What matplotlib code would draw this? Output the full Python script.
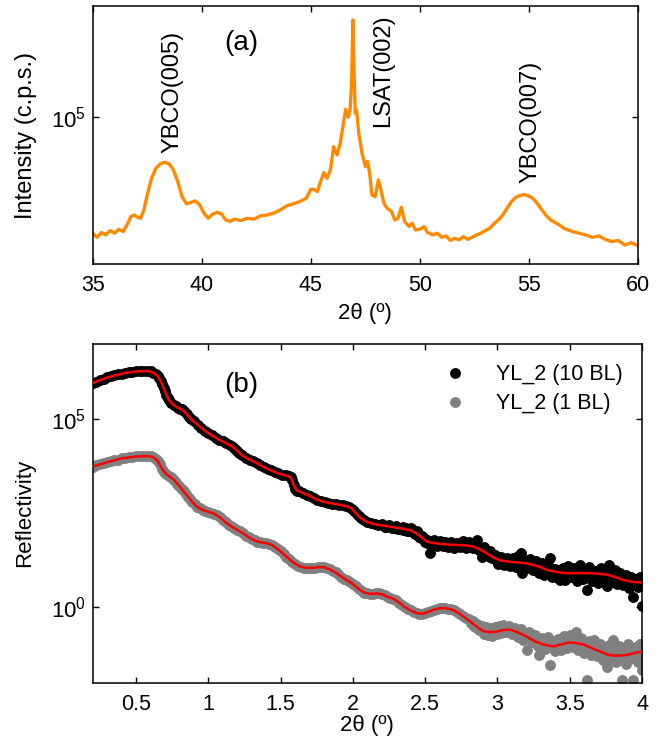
import matplotlib
matplotlib.use("Agg")
import matplotlib.pyplot as plt
from matplotlib import font_manager as fm
from matplotlib.ticker import FixedLocator, NullLocator, FixedFormatter
import numpy as np

# ---------------- panel (a): XRD theta-2theta scan ----------------
xrd_2theta = [35.0, 35.2, 35.4, 35.6, 35.8, 36.0, 36.2, 36.4, 36.6, 36.75, 36.9, 37.05, 37.2, 37.35,
              37.5, 37.7, 37.9, 38.1, 38.3, 38.5, 38.7, 38.9, 39.1, 39.3, 39.5, 39.7, 39.9, 40.1,
              40.3, 40.5, 40.7, 40.9, 41.1, 41.3, 41.5, 41.8, 42.1, 42.4, 42.7, 43.0, 43.3, 43.6,
              43.9, 44.2, 44.5, 44.8, 45.0, 45.15, 45.3, 45.45, 45.6, 45.75, 45.9, 46.05, 46.2,
              46.35, 46.5, 46.6, 46.72, 46.8, 46.87, 46.93, 46.98, 47.04, 47.1, 47.2, 47.35, 47.5,
              47.6, 47.7, 47.8, 47.95, 48.1, 48.2, 48.35, 48.5, 48.7, 48.85, 49.0, 49.15, 49.3,
              49.5, 49.65, 49.8, 50.0, 50.2, 50.35, 50.6, 50.8, 51.0, 51.2, 51.4, 51.6, 51.8, 52.0,
              52.2, 52.4, 52.6, 52.8, 53.0, 53.2, 53.4, 53.6, 53.8, 54.0, 54.2, 54.4, 54.6, 54.8,
              55.0, 55.2, 55.4, 55.6, 55.8, 56.0, 56.2, 56.4, 56.6, 56.8, 57.0, 57.3, 57.6, 57.9,
              58.2, 58.5, 58.8, 59.1, 59.4, 59.7, 60.0]
xrd_counts = [25900, 24700, 26100, 25400, 26700, 25900, 27100, 26400, 28900, 31400, 32000, 31200,
              30800, 33900, 40400, 49000, 55000, 57900, 59000, 57900, 54000, 47100, 39600, 36400,
              37000, 37700, 36000, 32700, 30800, 32300, 33000, 32400, 30200, 29700, 30500, 30000,
              30800, 30500, 31700, 32000, 32700, 33900, 35600, 36400, 37400, 38900, 43100, 43100,
              42000, 47100, 52300, 49000, 54000, 70700, 64200, 73500, 92700, 109000, 99400, 108000,
              147000, 307000, 172000, 104000, 108000, 82600, 65500, 56100, 59600, 51900, 40400,
              39600, 48100, 43600, 36700, 34600, 33300, 30200, 30800, 35000, 29700, 28000, 29100,
              26900, 27100, 28000, 26100, 25400, 25900, 24700, 25100, 23800, 24400, 24000, 24900,
              24100, 24700, 25400, 25900, 26700, 27400, 28900, 30200, 32000, 34600, 37400, 39300,
              40100, 40500, 39900, 38600, 36400, 33900, 31700, 30200, 29300, 28500, 27400, 26900,
              26400, 25900, 25400, 24700, 25100, 24100, 23500, 23800, 22600, 23200, 22400]

peak_labels = ["YBCO(005)", "LSAT(002)", "YBCO(007)"]
peak_label_2theta = [38.64, 48.31, 55.05]
peak_label_counts = [65600, 88700, 46400]

# ---------------- panel (b): X-ray reflectivity (decade exponents) ----------------
theta_10bl = [0.200, 0.225, 0.250, 0.275, 0.300, 0.325, 0.350, 0.375, 0.400, 0.425, 0.450, 0.475,
              0.500, 0.525, 0.550, 0.575, 0.600, 0.620, 0.635, 0.650, 0.660, 0.670, 0.680, 0.690,
              0.700, 0.710, 0.720, 0.730, 0.745, 0.760, 0.775, 0.790, 0.805, 0.820, 0.835, 0.850,
              0.865, 0.880, 0.900, 0.925, 0.950, 0.975, 1.000, 1.025, 1.050, 1.075, 1.100, 1.125,
              1.150, 1.170, 1.185, 1.200, 1.215, 1.235, 1.260, 1.285, 1.310, 1.335, 1.360, 1.385,
              1.410, 1.435, 1.460, 1.485, 1.510, 1.535, 1.555, 1.570, 1.580, 1.590, 1.600, 1.615,
              1.630, 1.655, 1.680, 1.705, 1.730, 1.755, 1.780, 1.805, 1.830, 1.855, 1.880, 1.905,
              1.930, 1.955, 1.975, 1.995, 2.010, 2.025, 2.040, 2.055, 2.075, 2.100, 2.125, 2.150,
              2.175,
              2.200, 2.225, 2.250, 2.275, 2.300, 2.325, 2.350, 2.375, 2.400, 2.420, 2.440, 2.460,
              2.480, 2.500, 2.515, 2.530, 2.545, 2.560, 2.580, 2.600, 2.620, 2.640, 2.660, 2.680,
              2.700, 2.720, 2.740, 2.760, 2.780, 2.800, 2.820, 2.840, 2.860, 2.880, 2.890, 2.905,
              2.925, 2.945, 2.965, 2.985, 3.005, 3.025, 3.045, 3.065, 3.085, 3.105, 3.125, 3.145,
              3.160, 3.170, 3.185, 3.205, 3.225, 3.245, 3.265, 3.285, 3.305, 3.325, 3.345, 3.364,
              3.380, 3.400, 3.420, 3.433, 3.450, 3.470, 3.490, 3.510, 3.530, 3.550, 3.570, 3.590,
              3.610, 3.618, 3.635, 3.655, 3.675, 3.695, 3.715, 3.735, 3.756, 3.770, 3.790, 3.810,
              3.830, 3.850, 3.870, 3.890, 3.910, 3.925, 3.940, 3.955, 3.970, 3.985, 3.995, 4.000,
              2.21, 2.23, 2.25, 2.27, 2.29, 2.31, 2.33, 2.35, 2.37, 2.39, 2.41, 2.43, 2.45, 2.47,
              2.49, 2.51, 2.53, 2.55, 2.57, 2.59, 2.61, 2.63, 2.65, 2.67, 2.69, 2.71, 2.73, 2.75,
              2.77, 2.79, 2.81, 2.83, 2.85, 2.87, 2.89, 2.91, 2.93, 2.95, 2.97, 2.99, 3.01, 3.03,
              3.05, 3.07, 3.09, 3.11, 3.13, 3.15, 3.17, 3.19, 3.21, 3.23, 3.25, 3.27, 3.29, 3.31,
              3.33, 3.35, 3.37, 3.39, 3.41, 3.43, 3.45, 3.47, 3.49, 3.51, 3.53, 3.55, 3.57, 3.59,
              3.61, 3.63, 3.65, 3.67, 3.69, 3.71, 3.73, 3.75, 3.77, 3.79, 3.81, 3.83, 3.85, 3.87,
              3.89, 3.91, 3.93, 3.95, 3.97, 3.99]
exp_10bl = [5.96, 6.00, 6.04, 6.08, 6.11, 6.14, 6.17, 6.19, 6.21, 6.23, 6.25, 6.26,
            6.27, 6.27, 6.28, 6.28, 6.27, 6.24, 6.20, 6.15, 6.09, 6.02, 5.94, 5.84,
            5.74, 5.65, 5.57, 5.50, 5.43, 5.38, 5.34, 5.30, 5.28, 5.26, 5.22, 5.14,
            5.07, 5.01, 4.94, 4.86, 4.77, 4.70, 4.63, 4.57, 4.51, 4.46, 4.41, 4.36,
            4.32, 4.27, 4.22, 4.16, 4.10, 4.04, 3.98, 3.93, 3.88, 3.84, 3.79, 3.73,
            3.68, 3.64, 3.59, 3.56, 3.53, 3.51, 3.49, 3.46, 3.38, 3.26, 3.15, 3.10,
            3.08, 3.04, 3.00, 2.96, 2.91, 2.86, 2.83, 2.80, 2.78, 2.76, 2.75, 2.73,
            2.71, 2.69, 2.66, 2.62, 2.55, 2.48, 2.42, 2.37, 2.31, 2.27, 2.23, 2.21,
            2.19,
            2.22, 2.14, 2.19, 2.10, 2.16, 2.08, 2.13, 2.03, 2.10, 1.99, 2.04, 1.88,
            1.90, 1.74, 1.80, 1.44, 1.68, 1.78, 1.64, 1.76, 1.62, 1.74, 1.60, 1.75,
            1.58, 1.72, 1.61, 1.76, 1.57, 1.74, 1.60, 1.70, 1.80, 1.52, 1.35, 1.60,
            1.42, 1.50, 1.30, 1.38, 1.16, 1.34, 1.12, 1.30, 1.10, 1.32, 1.08, 1.36,
            1.44, 0.91, 1.26, 1.04, 1.28, 1.00, 1.22, 0.92, 1.18, 0.86, 1.10, 1.31,
            0.80, 1.02, 0.78, 0.73, 1.06, 0.74, 1.10, 0.80, 1.04, 0.70, 1.12, 0.76,
            1.00, 0.47, 1.08, 0.70, 0.96, 0.66, 1.06, 0.78, 0.56, 1.14, 0.68, 1.00,
            0.62, 0.92, 0.60, 0.86, 0.52, 0.80, 0.29, 0.76, 0.55, 0.82, 0.64, 0.03,
            2.19, 2.13, 2.17, 2.12, 2.14, 2.09, 2.12, 2.07, 2.10, 2.04, 2.06, 1.96, 1.97, 1.84,
            1.85, 1.72, 1.77, 1.70, 1.75, 1.67, 1.72, 1.65, 1.70, 1.64, 1.69, 1.63, 1.69, 1.62,
            1.68, 1.61, 1.67, 1.58, 1.63, 1.53, 1.57, 1.43, 1.48, 1.34, 1.37, 1.25, 1.32, 1.19,
            1.28, 1.17, 1.26, 1.15, 1.25, 1.14, 1.24, 1.12, 1.21, 1.08, 1.18, 1.04, 1.14, 0.98,
            1.08, 0.92, 1.04, 0.88, 1.00, 0.86, 0.98, 0.84, 0.97, 0.85, 0.98, 0.84, 0.97, 0.83,
            0.98, 0.84, 0.97, 0.82, 0.98, 0.82, 0.96, 0.80, 0.94, 0.76, 0.90, 0.70, 0.84, 0.66,
            0.80, 0.62, 0.76, 0.60, 0.74, 0.60]

theta_1bl = [0.200, 0.225, 0.250, 0.275, 0.300, 0.325, 0.350, 0.375, 0.400, 0.425, 0.450, 0.475,
             0.500, 0.525, 0.550, 0.575, 0.600, 0.620, 0.635, 0.650, 0.665, 0.680, 0.695, 0.710,
             0.725, 0.740, 0.755, 0.770, 0.785, 0.800, 0.815, 0.830, 0.845, 0.860, 0.875, 0.890,
             0.905, 0.920, 0.940, 0.960, 0.980, 1.000, 1.020, 1.040, 1.060, 1.080, 1.100, 1.120,
             1.140, 1.160, 1.180, 1.200, 1.220, 1.240, 1.260, 1.280, 1.300, 1.320, 1.340, 1.360,
             1.380, 1.400, 1.420, 1.440, 1.460, 1.480, 1.500, 1.520, 1.540, 1.560, 1.580, 1.600,
             1.620, 1.640, 1.660, 1.680, 1.700, 1.720, 1.740, 1.760, 1.780, 1.800, 1.820, 1.840,
             1.860, 1.880, 1.900, 1.920, 1.940, 1.960, 1.980, 2.000, 2.020, 2.040, 2.060, 2.080,
             2.100, 2.120, 2.140, 2.160, 2.180, 2.200, 2.220, 2.240, 2.260, 2.280, 2.300, 2.320,
             2.340, 2.360, 2.380, 2.400, 2.420, 2.440, 2.460, 2.480, 2.500, 2.520, 2.540, 2.560,
             2.580, 2.600, 2.620, 2.640, 2.660, 2.680, 2.700, 2.720, 2.740, 2.760, 2.780,
             2.800, 2.815, 2.830, 2.845, 2.860, 2.875, 2.890, 2.905, 2.920, 2.935, 2.950, 2.965,
             2.980, 2.995, 3.010, 3.025, 3.040, 3.060, 3.080, 3.100, 3.120, 3.140, 3.160, 3.180,
             3.202, 3.220, 3.240, 3.260, 3.280, 3.290, 3.310, 3.330, 3.350, 3.364, 3.380, 3.400,
             3.420, 3.440, 3.460, 3.480, 3.500, 3.520, 3.540, 3.560, 3.580, 3.600, 3.618, 3.630,
             3.650, 3.670, 3.690, 3.710, 3.730, 3.756, 3.770, 3.790, 3.800, 3.820, 3.840, 3.860,
             3.875, 3.890, 3.905, 3.920, 3.940, 3.955, 3.970, 3.985, 3.997, 4.000,
             2.81, 2.83, 2.85, 2.87, 2.89, 2.91, 2.93, 2.95, 2.97, 2.99, 3.01, 3.03, 3.05, 3.07,
             3.09, 3.11, 3.13, 3.15, 3.17, 3.19, 3.21, 3.23, 3.25, 3.27, 3.29, 3.31, 3.33, 3.35,
             3.37, 3.39, 3.41, 3.43, 3.45, 3.47, 3.49, 3.51, 3.53, 3.55, 3.57, 3.59, 3.61, 3.63,
             3.65, 3.67, 3.69, 3.71, 3.73, 3.75, 3.77, 3.79, 3.81, 3.83, 3.85, 3.87, 3.89, 3.91,
             3.93, 3.95, 3.97, 3.99]
exp_1bl = [3.74, 3.78, 3.81, 3.84, 3.86, 3.89, 3.91, 3.93, 3.96, 3.98, 3.99, 4.00,
           4.01, 4.01, 4.02, 4.02, 4.01, 3.99, 3.95, 3.89, 3.80, 3.68, 3.60, 3.54,
           3.50, 3.46, 3.42, 3.36, 3.29, 3.22, 3.15, 3.08, 3.01, 2.94, 2.87, 2.80,
           2.74, 2.68, 2.63, 2.59, 2.56, 2.54, 2.52, 2.49, 2.45, 2.39, 2.33, 2.26,
           2.20, 2.15, 2.10, 2.06, 2.02, 1.97, 1.91, 1.86, 1.82, 1.78, 1.75, 1.73,
           1.72, 1.71, 1.69, 1.66, 1.61, 1.55, 1.49, 1.42, 1.35, 1.28, 1.21, 1.16,
           1.11, 1.08, 1.06, 1.05, 1.04, 1.05, 1.06, 1.07, 1.08, 1.07, 1.05, 1.01,
           0.97, 0.93, 0.88, 0.82, 0.76, 0.72, 0.68, 0.63, 0.56, 0.49, 0.43, 0.39,
           0.37, 0.36, 0.36, 0.37, 0.37, 0.35, 0.32, 0.28, 0.24, 0.23, 0.19, 0.13,
           0.07, 0.01, -0.04, -0.08, -0.12, -0.15, -0.17, -0.17, -0.15, -0.12, -0.09, -0.06,
           -0.04, -0.02, -0.01, -0.02, -0.03, -0.05, -0.08, -0.12, -0.17, -0.23, -0.29,
           -0.30, -0.42, -0.36, -0.52, -0.44, -0.60, -0.50, -0.70, -0.52, -0.72, -0.55, -0.76,
           -0.52, -0.70, -0.50, -0.68, -0.48, -0.66, -0.50, -0.70, -0.54, -0.78, -0.58, -0.86,
           -1.13, -0.66, -0.92, -0.72, -1.02, -1.26, -0.80, -1.10, -0.78, -1.53, -0.90, -1.16,
           -0.84, -1.12, -0.76, -1.08, -0.72, -1.06, -0.64, -1.12, -0.80, -1.20, -1.93, -0.90,
           -1.26, -0.86, -1.30, -0.96, -1.40, -1.57, -1.00, -1.36, -0.86, -1.44, -1.02, -1.93,
           -1.10, -1.50, -0.96, -1.38, -1.93, -1.06, -1.46, -0.98, -1.66, -1.10,
           -0.34, -0.46, -0.46, -0.58, -0.56, -0.62, -0.60, -0.68, -0.61, -0.62, -0.58, -0.62,
           -0.56, -0.60, -0.55, -0.64, -0.60, -0.70, -0.66, -0.78, -0.72, -0.86, -0.80, -0.94,
           -0.86, -1.00, -0.90, -1.04, -0.94, -1.06, -0.92, -1.02, -0.88, -0.98, -0.86, -0.96,
           -0.86, -0.98, -0.88, -1.02, -0.92, -1.08, -0.98, -1.14, -1.04, -1.20, -1.08, -1.26,
           -1.12, -1.30, -1.16, -1.32, -1.14, -1.30, -1.12, -1.28, -1.10, -1.24, -1.08, -1.20]

fit_theta_10bl = [0.2, 0.3, 0.4, 0.5, 0.58, 0.62, 0.65, 0.67, 0.69, 0.71, 0.73, 0.76, 0.79, 0.82,
                  0.85, 0.88, 0.925, 0.975, 1.025, 1.075, 1.125, 1.17, 1.2, 1.235, 1.285, 1.335,
                  1.385, 1.435, 1.485, 1.535, 1.57, 1.59, 1.61, 1.655, 1.705, 1.755, 1.805, 1.855,
                  1.905, 1.955, 1.995, 2.025, 2.055, 2.1, 2.15, 2.2, 2.25, 2.3, 2.35, 2.4, 2.44,
                  2.48, 2.51, 2.56, 2.6, 2.66, 2.72, 2.78, 2.83, 2.88, 2.93, 2.97, 3.02, 3.09,
                  3.16, 3.2, 3.25, 3.3, 3.34, 3.41, 3.48, 3.55, 3.62, 3.69, 3.76, 3.82, 3.87,
                  3.93, 4.0]
fit_exp_10bl = [5.96, 6.11, 6.21, 6.27, 6.28, 6.24, 6.15, 6.02, 5.84, 5.65, 5.50, 5.38, 5.30, 5.26,
                5.14, 5.01, 4.86, 4.70, 4.57, 4.46, 4.36, 4.27, 4.16, 4.04, 3.93, 3.84,
                3.73, 3.64, 3.56, 3.51, 3.46, 3.26, 3.12, 3.04, 2.96, 2.86, 2.80, 2.76,
                2.73, 2.69, 2.62, 2.48, 2.37, 2.27, 2.21, 2.18, 2.15, 2.12, 2.09, 2.05, 1.97,
                1.85, 1.75, 1.71, 1.69, 1.67, 1.66, 1.65, 1.62, 1.54, 1.43, 1.33, 1.25, 1.21,
                1.19, 1.17, 1.13, 1.07, 1.00, 0.94, 0.91, 0.91, 0.91, 0.90, 0.87, 0.80, 0.73,
                0.68, 0.66]

fit_theta_1bl = [0.2, 0.3, 0.4, 0.5, 0.58, 0.62, 0.65, 0.68, 0.71, 0.74, 0.77, 0.8, 0.83, 0.86,
                 0.89, 0.92, 0.96, 1.0, 1.04, 1.08, 1.12, 1.16, 1.2, 1.24, 1.28, 1.32, 1.36, 1.4,
                 1.44, 1.48, 1.52, 1.56, 1.6, 1.64, 1.68, 1.72, 1.76, 1.8, 1.84, 1.88, 1.92,
                 1.96, 2.0, 2.04, 2.08, 2.12, 2.16, 2.2, 2.24, 2.28, 2.32, 2.36, 2.4, 2.44, 2.48,
                 2.52, 2.56, 2.6, 2.64, 2.68, 2.72, 2.76, 2.81, 2.86, 2.9, 2.95, 3.0, 3.04, 3.09,
                 3.14, 3.2, 3.26, 3.32, 3.39, 3.44, 3.5, 3.55, 3.6, 3.65, 3.71, 3.76, 3.8, 3.85,
                 3.9, 3.95, 4.0]
fit_exp_1bl = [3.74, 3.86, 3.96, 4.01, 4.02, 3.99, 3.89, 3.68, 3.54, 3.46, 3.36, 3.22, 3.08, 2.94,
               2.80, 2.68, 2.59, 2.54, 2.49, 2.39, 2.26, 2.15, 2.06, 1.97, 1.86, 1.78, 1.73, 1.71,
               1.66, 1.55, 1.42, 1.28, 1.16, 1.08, 1.05, 1.05, 1.07, 1.07, 1.01, 0.93, 0.82,
               0.72, 0.62, 0.49, 0.39, 0.36, 0.37, 0.35, 0.28, 0.23, 0.13, 0.01, -0.08, -0.15, -0.17,
               -0.12, -0.06, -0.02, -0.02, -0.05, -0.12, -0.23, -0.37, -0.52, -0.63, -0.66, -0.64, -0.60, -0.59,
               -0.66, -0.77, -0.90, -0.99, -1.04, -0.98, -0.93, -0.95, -0.99, -1.08, -1.17, -1.25, -1.28, -1.28,
               -1.26, -1.21, -1.17]

series_names = ["YL_2 (10 BL)", "YL_2 (1 BL)"]
xrr_ticks = [0.5, 1, 1.5, 2, 2.5, 3, 3.5, 4]
xrr_tick_labels = ["0.5", "1", "1.5", "2", "2.5", "3", "3.5", "4"]
xrd_ticks = [35, 40, 45, 50, 55, 60]


# ---------------- fonts ----------------
def installed(name):
    try:
        fm.findfont(fm.FontProperties(family=name), fallback_to_default=False)
        return True
    except Exception:
        return False


if installed("Liberation Sans Narrow"):
    FAMILY = ["Liberation Sans Narrow", "Liberation Sans", "DejaVu Sans"]
    k = 1.15
else:
    FAMILY = ["Liberation Sans", "DejaVu Sans"]
    k = 1.0

plt.rcParams["font.family"] = FAMILY
plt.rcParams["mathtext.fontset"] = "custom"
plt.rcParams["mathtext.rm"] = FAMILY[0]
plt.rcParams["mathtext.it"] = FAMILY[0]

FS_TICK = 15.5 * k
FS_YTICK = 16 * k
FS_XLABEL = 16 * k
FS_NOTE = 17 * k
FS_PANEL = 20 * k
FS_LEG = 15.5 * k

ORANGE = "#FF8A00"
GREY = "#808080"

fig = plt.figure(figsize=(6.64, 7.41), dpi=100)
ax1 = fig.add_axes([0.1396, 0.6437, 0.9608 - 0.1396, 0.9919 - 0.6437])
ax2 = fig.add_axes([0.1396, 0.0787, 0.9669 - 0.1396, 0.5358 - 0.0787])


def style_axes(ax):
    for s in ax.spines.values():
        s.set_linewidth(1.1)
    ax.tick_params(which="both", direction="in", top=True, right=True,
                   length=4, width=1, labelsize=FS_TICK)
    ax.tick_params(axis="x", pad=8)
    ax.tick_params(axis="y", labelsize=FS_YTICK, pad=5)


# ---- (a) ----
ax1.plot(xrd_2theta, xrd_counts, color=ORANGE, lw=2.4, solid_joinstyle="round")
ax1.set_yscale("log")
ax1.set_xlim(35, 60)
ax1.set_ylim(10 ** 4.258, 10 ** 5.558)
ax1.xaxis.set_major_locator(FixedLocator(xrd_ticks))
ax1.yaxis.set_major_locator(FixedLocator([1e5]))
ax1.yaxis.set_major_formatter(FixedFormatter([r"$\mathregular{10^{5}}$"]))
ax1.yaxis.set_minor_locator(NullLocator())
style_axes(ax1)
ax1.set_xlabel("2θ (º)", fontsize=FS_XLABEL)
ax1.xaxis.set_label_coords(0.5, -0.151)
ax1.set_ylabel("Intensity (c.p.s.)", fontsize=17 * k)
ax1.yaxis.set_label_coords(-0.102, 0.5)
for lab, x, y in zip(peak_labels, peak_label_2theta, peak_label_counts):
    ax1.text(x, y, lab, rotation=90, ha="center", va="bottom", fontsize=FS_NOTE)
ax1.text(0.272, 0.857, "(a)", transform=ax1.transAxes, ha="center", va="center", fontsize=FS_PANEL)

# ---- (b) ----
r10 = 10.0 ** np.array(exp_10bl)
r1 = 10.0 ** np.array(exp_1bl)
ax2.plot(theta_10bl, r10, ls="none", marker="o", ms=6.8, mfc="black", mec="black",
         label=series_names[0], zorder=2)
ax2.plot(theta_1bl, r1, ls="none", marker="o", ms=6.8, mfc=GREY, mec=GREY,
         label=series_names[1], zorder=2)
ax2.plot(fit_theta_10bl, 10.0 ** np.array(fit_exp_10bl), color="red", lw=1.8, zorder=3)
ax2.plot(fit_theta_1bl, 10.0 ** np.array(fit_exp_1bl), color="red", lw=1.8, zorder=3)
ax2.set_yscale("log")
ax2.set_xlim(0.2, 4.0)
ax2.set_ylim(1e-2, 1e7)
ax2.xaxis.set_major_locator(FixedLocator(xrr_ticks))
ax2.xaxis.set_major_formatter(FixedFormatter(xrr_tick_labels))
ax2.yaxis.set_major_locator(FixedLocator([1e0, 1e5]))
ax2.yaxis.set_major_formatter(FixedFormatter([r"$\mathregular{10^{0}}$", r"$\mathregular{10^{5}}$"]))
ax2.yaxis.set_minor_locator(NullLocator())
style_axes(ax2)
ax2.set_xlabel("2θ (º)", fontsize=FS_XLABEL)
ax2.xaxis.set_label_coords(0.5, -0.095)
ax2.set_ylabel("Reflectivity", fontsize=16 * k)
ax2.yaxis.set_label_coords(-0.104, 0.5)
ax2.text(0.27, 0.879, "(b)", transform=ax2.transAxes, ha="center", va="center", fontsize=FS_PANEL)
ax2.legend(loc="upper left", bbox_to_anchor=(0.64, 0.94), frameon=False, fontsize=FS_LEG,
           borderpad=0, borderaxespad=0, handlelength=1.0, handletextpad=1.4,
           labelspacing=0.38, markerscale=1.0)

fig.savefig("out.png", dpi=100)
